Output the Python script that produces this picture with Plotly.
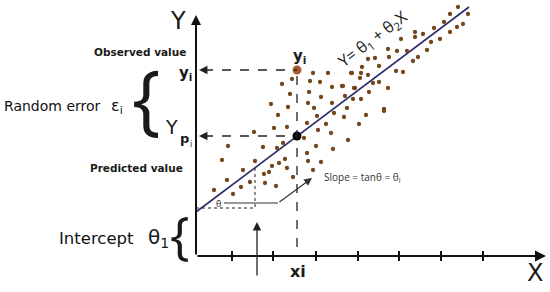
import plotly.graph_objects as go

# ---- data (diagram coordinates, x to the right, y downward as in the picture) ----
pts_x = [271, 288, 278, 274, 287, 254, 228, 263, 277, 283, 222, 255, 285, 279, 272, 287, 243, 264, 269, 227, 250, 265, 276, 241, 293, 214, 233,
         308, 332, 314, 317, 334, 344, 366, 384, 307, 326, 359, 318, 331, 304, 348, 316, 333, 307, 308, 321, 313,
         292, 282, 290, 313, 328, 310, 320, 309, 332, 342, 351, 361, 368, 345, 355, 321,
         458, 468, 450, 444, 463, 457, 434, 450, 415, 423, 415, 401, 431, 440, 388, 397, 407, 427, 389, 418, 413,
         368, 375, 362, 379, 352, 360, 396, 403, 343, 354, 373, 379, 388, 369, 353, 361, 347, 384]
pts_y = [104, 107, 115, 128, 127, 132, 146, 147, 148, 143, 160, 161, 159, 163, 166, 168, 170, 174, 172, 180, 182, 183, 186, 187, 177, 190, 194,
         103, 103, 108, 116, 113, 117, 115, 111, 123, 124, 124, 130, 133, 138, 140, 146, 149, 153, 161, 162, 170,
         79, 84, 94, 73, 73, 81, 82, 92, 87, 86, 73, 73, 75, 96, 88, 97,
         7, 14, 14, 22, 24, 27, 28, 32, 32, 34, 37, 39, 42, 39, 49, 51, 51, 50, 57, 57, 61,
         59, 58, 67, 66, 73, 78, 71, 72, 86, 88, 83, 82, 88, 92, 99, 99, 108, 109]

line_x = [196, 469]
line_y = [212, 7]

observed = [297, 70]
predicted = [297, 136]

x_ticks = [232, 273, 316, 358, 399, 441, 483]

FONT = "DejaVu Sans"
FONT2 = "Open Sans"
fig = go.Figure()

# regression line
fig.add_trace(go.Scatter(x=line_x, y=line_y, mode="lines", cliponaxis=False,
                         line=dict(color="#2b2b6b", width=1.6), hoverinfo="skip"))
# scatter points
fig.add_trace(go.Scatter(x=pts_x, y=pts_y, mode="markers", cliponaxis=False,
                         marker=dict(color="#74461c", size=4.3), hoverinfo="skip"))
# observed and predicted points
fig.add_trace(go.Scatter(x=[observed[0]], y=[observed[1]], mode="markers",
                         marker=dict(color="#a85c2c", size=9), hoverinfo="skip"))
fig.add_trace(go.Scatter(x=[predicted[0]], y=[predicted[1]], mode="markers",
                         marker=dict(color="#000000", size=9), hoverinfo="skip"))

shapes = []
# dashed guide lines
shapes.append(dict(type="line", x0=204, y0=observed[1], x1=observed[0], y1=observed[1],
                   line=dict(color="#222", width=1.3, dash="dash")))
shapes.append(dict(type="line", x0=204, y0=predicted[1], x1=predicted[0], y1=predicted[1],
                   line=dict(color="#222", width=1.3, dash="dash")))
shapes.append(dict(type="line", x0=observed[0], y0=observed[1] + 6, x1=observed[0], y1=256,
                   line=dict(color="#222", width=1.3, dash="dash")))
# x ticks
for t in x_ticks:
    shapes.append(dict(type="line", x0=t, y0=251, x1=t, y1=261, line=dict(color="#111", width=2)))
# slope triangle (dotted)
shapes.append(dict(type="line", x0=196, y0=208, x1=255, y1=208, line=dict(color="#222", width=1, dash="dot")))
shapes.append(dict(type="line", x0=255, y0=168, x1=255, y1=208, line=dict(color="#222", width=1, dash="dot")))
# pointer from theta to slope text
shapes.append(dict(type="line", x0=224, y0=203, x1=278, y1=203, line=dict(color="#333", width=1.2)))

ann = []
def arrow(x0, y0, x1, y1, width=2, color="#111", head=2, size=1):
    ann.append(dict(x=x1, y=y1, ax=x0, ay=y0, xref="x", yref="y", axref="x", ayref="y",
                    showarrow=True, arrowhead=head, arrowsize=size, arrowwidth=width,
                    arrowcolor=color, text=""))

# axes
arrow(196, 256, 196, 15, width=2)
arrow(196, 256, 546, 256, width=2.2)
# dashed-line arrowheads
arrow(206, observed[1], 199, observed[1], width=1.3, color="#222", size=1.3)
arrow(206, predicted[1], 199, predicted[1], width=1.3, color="#222", size=1.3)
# slope pointer arrow
arrow(278, 203, 312, 178, width=1.2, color="#333", size=1.3)
# up arrow below triangle
arrow(257, 277, 257, 222, width=1.3, color="#222", size=1.3)

def txt(x, y, s, size, color="#1a1a1a", xanchor="center", angle=0, family=FONT):
    ann.append(dict(x=x, y=y, xref="x", yref="y", text=s, showarrow=False,
                    font=dict(family=family, size=size, color=color),
                    xanchor=xanchor, yanchor="middle", textangle=angle))

txt(178, 21, "Y", 24)
txt(545, 273, "X", 24, xanchor="right")
txt(298, 271, "<b>xi</b>", 16)
txt(299, 56, "<b>y<sub>i</sub></b>", 15)
txt(140, 52, "<b>Observed value</b>", 10.5)
txt(136, 168, "<b>Predicted value</b>", 10.5)
txt(185, 73, "<b>y<sub>i</sub></b>", 15)
txt(171, 127, "Y", 19)
txt(184, 138, "<b>p</b>", 13)
txt(191, 144, "i", 8)
txt(146, 96, "{", 76, family=FONT2)
txt(103, 106, "Random error", 14, color="#111", xanchor="right")
txt(109, 106, "ε<sub>i</sub>", 16, xanchor="left")
txt(57, 238, "Intercept", 16.5, color="#111", xanchor="left")
txt(146, 238, "θ<sub>1</sub>", 20, xanchor="left")
txt(180, 233, "{", 52, family=FONT2)
txt(218, 203, "θ", 9, family=FONT2)
txt(322, 177, "Slope = tanθ = θ<sub>i</sub>", 10, color="#333", xanchor="left", family=FONT2)
txt(372, 39, "Y= θ<sub>1</sub> + θ<sub>2</sub>X", 16, angle=-37, family=FONT2)

fig.update_layout(
    width=550, height=292,
    margin=dict(l=0, r=0, t=0, b=0),
    paper_bgcolor="white", plot_bgcolor="white",
    showlegend=False,
    xaxis=dict(range=[0, 550], visible=False, fixedrange=True),
    yaxis=dict(range=[292, 0], visible=False, fixedrange=True),
    shapes=shapes, annotations=ann,
)
# remove the default 8px page margin so the figure fills the window exactly
fig.write_html("out.html", config={"displayModeBar": False},
               post_script="document.body.style.margin='0';document.body.style.overflow='hidden';")
